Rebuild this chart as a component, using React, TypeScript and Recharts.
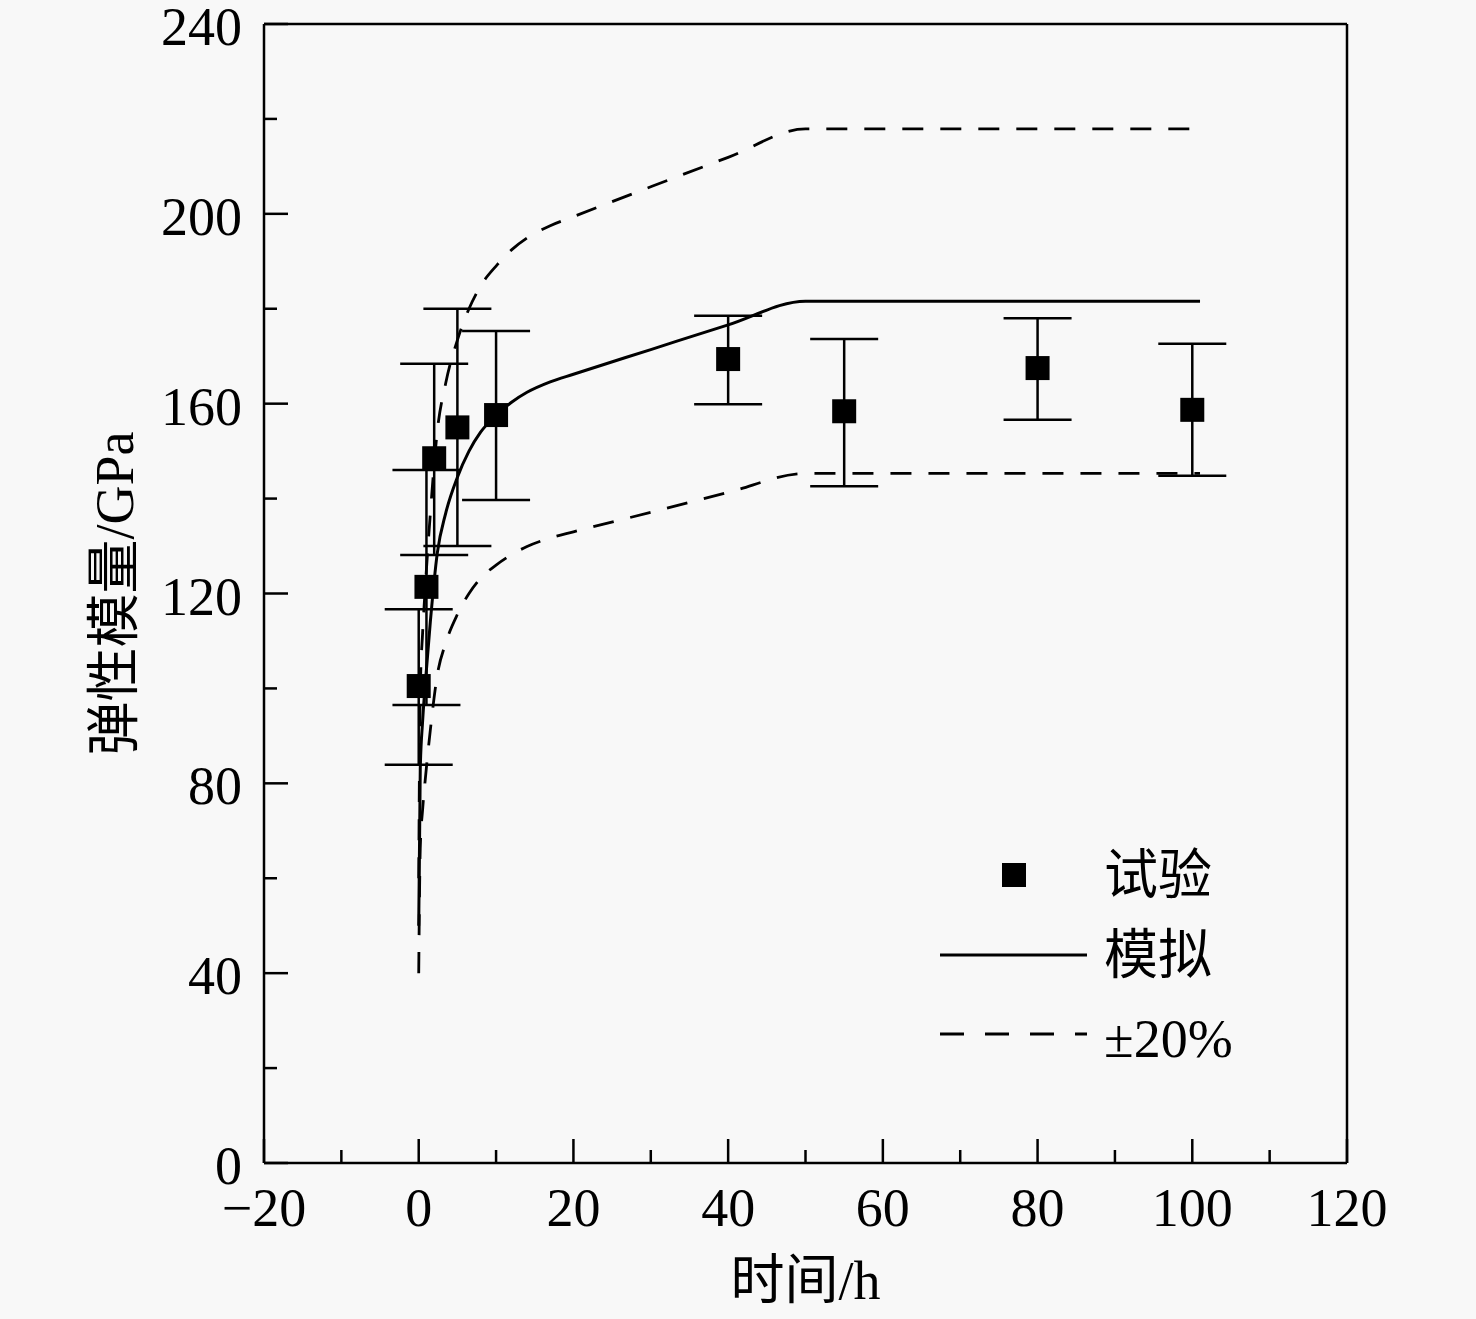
import React from 'react';
import {
  ComposedChart, Line, Scatter, XAxis, YAxis, ErrorBar, Label,
} from 'recharts';

// ---- data ----
const xTicks = [-20, -10, 0, 10, 20, 30, 40, 50, 60, 70, 80, 90, 100, 110, 120];
const yTicks = [0, 20, 40, 60, 80, 100, 120, 140, 160, 180, 200, 220, 240];

const expX = [0, 1, 2, 5, 10, 40, 55, 80, 100];
const expY = [100.5, 121.4, 148.5, 155, 157.6, 169.4, 158.4, 167.5, 158.7];
const expErrLow = [16.6, 24.9, 20.4, 25, 17.9, 9.5, 15.8, 10.9, 13.9];
const expErrHigh = [16.2, 24.6, 19.9, 25, 17.7, 9.1, 15.2, 10.5, 13.9];

const simX = [0, 0.2, 0.5, 0.8, 1.5, 2.4, 3.5, 5, 6.5, 8, 10, 12, 14, 17, 20, 30, 40, 50, 101];
const simY = [50, 83, 93, 100, 114, 128.5, 137, 144.5, 150, 154, 157.5, 160.3, 162.4, 164.6, 166.2, 171.4, 176.6, 181.6, 181.6];
const upperY = [60, 99.6, 111.6, 120, 136.8, 154.2, 164.4, 173.4, 180, 184.8, 189, 192.4, 194.9, 197.5, 199.4, 205.7, 211.9, 217.9, 217.9];
const lowerY = [40, 66.4, 74.4, 80, 91.2, 102.8, 109.6, 115.6, 120, 123.2, 126, 128.2, 129.9, 131.7, 133, 137.1, 141.3, 145.3, 145.3];

const legendLabels = ['试验', '模拟', '±20%'];
const xTitle = '时间/h';
const yTitle = '弹性模量/GPa';

const expData = expX.map((x, i) => ({ x, y: expY[i], err: [expErrLow[i], expErrHigh[i]] }));
const simData = simX.map((x, i) => ({ x, y: simY[i] }));
const upperData = simX.map((x, i) => ({ x, y: upperY[i] }));
const lowerData = simX.map((x, i) => ({ x, y: lowerY[i] }));

const FONT = "'Liberation Serif', 'Noto Sans CJK SC', serif";
const FS = 54;
const fmt = (v: number) => (v < 0 ? '\u2212' + Math.abs(v) : String(v));

const XTick = (props: any) => {
  const { x, y, payload } = props;
  const v = payload.value;
  const major = v % 20 === 0;
  return (
    <g>
      <line x1={x} x2={x} y1={y} y2={y - (major ? 24 : 13)} stroke="#000" strokeWidth={2.5} />
      {major && (
        <text x={x} y={y + 63} textAnchor="middle" fontSize={FS} fontFamily={FONT} fill="#000">
          {fmt(v)}
        </text>
      )}
    </g>
  );
};

const YTick = (props: any) => {
  const { x, y, payload } = props;
  const v = payload.value;
  const major = v % 40 === 0;
  return (
    <g>
      <line x1={x} x2={x + (major ? 24 : 13)} y1={y} y2={y} stroke="#000" strokeWidth={2.5} />
      {major && (
        <text x={x - 22} y={y + 21} textAnchor="end" fontSize={FS} fontFamily={FONT} fill="#000">
          {fmt(v)}
        </text>
      )}
    </g>
  );
};

const SquareShape = (props: any) => {
  const { cx, cy } = props;
  return <rect x={cx - 12} y={cy - 12} width={24} height={24} fill="#000" />;
};

const YTitle = (props: any) => {
  const { x, y, width, height } = props.viewBox;
  const cx = x + width - 149;
  const cy = y + height / 2;
  return (
    <text
      x={cx}
      y={cy}
      transform={`rotate(-90, ${cx}, ${cy})`}
      textAnchor="middle"
      dominantBaseline="central"
      fontSize={FS}
      fontFamily={FONT}
      fill="#000"
    >
      {yTitle}
    </text>
  );
};

const XTitle = (props: any) => {
  const { x, y, width } = props.viewBox;
  return (
    <text x={x + width / 2} y={y + 136} textAnchor="middle" fontSize={FS} fontFamily={FONT} fill="#000">
      {xTitle}
    </text>
  );
};

const Legendbox = () => (
  <svg
    width={330}
    height={240}
    style={{ position: 'absolute', left: 930, top: 840, overflow: 'visible' }}
  >
    <rect x={72} y={23} width={24} height={24} fill="#000" />
    <text x={174} y={54} fontSize={FS} fontFamily={FONT} fill="#000">{legendLabels[0]}</text>
    <line x1={10} x2={157} y1={115} y2={115} stroke="#000" strokeWidth={3} />
    <text x={174} y={134} fontSize={FS} fontFamily={FONT} fill="#000">{legendLabels[1]}</text>
    <line x1={10} x2={157} y1={194} y2={194} stroke="#000" strokeWidth={3} strokeDasharray="24 21" />
    <text x={174} y={217} fontSize={FS} fontFamily={FONT} fill="#000">{legendLabels[2]}</text>
  </svg>
);

const axisLineStyle = { stroke: '#000', strokeWidth: 2.5 };

export default function App() {
  return (
    <div
      style={{
        position: 'absolute',
        left: 0,
        top: 0,
        width: 1476,
        height: 1319,
        background: '#f8f8f8',
        overflow: 'hidden',
      }}
    >
      <ComposedChart
        width={1476}
        height={1319}
        margin={{ top: 23, right: 128, bottom: 155, left: 263 }}
      >
        <XAxis
          xAxisId="b"
          dataKey="x"
          type="number"
          domain={[-20, 120]}
          ticks={xTicks}
          interval={0}
          allowDataOverflow
          height={1}
          tickSize={0}
          tickMargin={0}
          tickLine={false}
          tick={<XTick />}
          axisLine={axisLineStyle}
        >
          <Label content={<XTitle />} />
        </XAxis>
        <XAxis
          xAxisId="t"
          orientation="top"
          dataKey="x"
          type="number"
          domain={[-20, 120]}
          allowDataOverflow
          height={1}
          tick={false}
          tickLine={false}
          axisLine={axisLineStyle}
        />
        <YAxis
          yAxisId="l"
          type="number"
          domain={[0, 240]}
          ticks={yTicks}
          interval={0}
          allowDataOverflow
          width={1}
          tickSize={0}
          tickMargin={0}
          tickLine={false}
          tick={<YTick />}
          axisLine={axisLineStyle}
        >
          <Label content={<YTitle />} />
        </YAxis>
        <YAxis
          yAxisId="r"
          orientation="right"
          type="number"
          domain={[0, 240]}
          allowDataOverflow
          width={1}
          tick={false}
          tickLine={false}
          axisLine={axisLineStyle}
        />
        <Line
          xAxisId="b"
          yAxisId="l"
          data={upperData}
          dataKey="y"
          type="monotone"
          stroke="#000"
          strokeWidth={2.8}
          strokeDasharray="21 17"
          dot={false}
          isAnimationActive={false}
        />
        <Line
          xAxisId="b"
          yAxisId="l"
          data={lowerData}
          dataKey="y"
          type="monotone"
          stroke="#000"
          strokeWidth={2.8}
          strokeDasharray="21 17"
          dot={false}
          isAnimationActive={false}
        />
        <Line
          xAxisId="b"
          yAxisId="l"
          data={simData}
          dataKey="y"
          type="monotone"
          stroke="#000"
          strokeWidth={3}
          dot={false}
          isAnimationActive={false}
        />
        <Scatter
          xAxisId="b"
          yAxisId="l"
          data={expData}
          dataKey="y"
          shape={<SquareShape />}
          isAnimationActive={false}
        >
          <ErrorBar dataKey="err" direction="y" width={34} stroke="#000" strokeWidth={2.5} />
        </Scatter>
      </ComposedChart>
      <Legendbox />
    </div>
  );
}
